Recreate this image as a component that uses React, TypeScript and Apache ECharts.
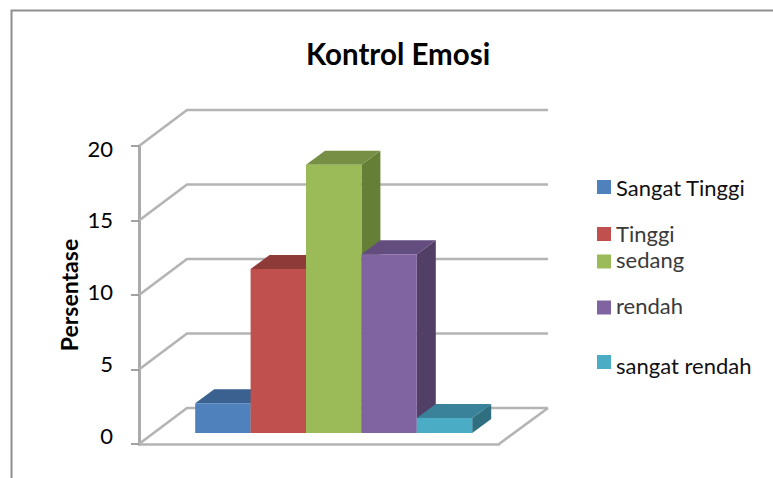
import React, { useEffect, useRef } from "react";
import * as echarts from "echarts";

const TITLE = "Kontrol Emosi";
const AXIS_NAME = "Persentase";
const GROUP = ["Kontrol Emosi"];
const LEVELS = ["Sangat Tinggi", "Tinggi", "sedang", "rendah", "sangat rendah"];
const VALUES = [2, 11, 18, 12, 1];
const TICKS = [0, 5, 10, 15, 20];

const FRONT = ["#4F81BD", "#C0504D", "#9BBB59", "#8064A2", "#4BACC6"];
const TOP = ["#3A6190", "#8E3A38", "#778F44", "#634C7E", "#39829A"];
const SIDE = ["#33557F", "#7E3331", "#667F37", "#523F66", "#2F6F7F"];
const LEGEND_TOPS = [176, 222, 248, 294, 354];
const LEGEND_TEXT = ["#111111", "#3A3A3A", "#3A3A3A", "#3A3A3A", "#111111"];
const LEGEND_TEXT_DROP = [0, 0, 0, 0, 6];
const LEGEND_TEXT_LIFT = [0, 2, 5, 5, 0];

const FONT = "Lato";
const WALL = "#B4B4B4";

// Projection of the chart's depth axis onto the screen.
const DEPTH_X = 48;
const DEPTH_Y = -36;
const BAR_DEPTH_X = 19;
const BAR_DEPTH_Y = -14;
const BAR_FRONT_X = 14.7;
const BAR_FRONT_Y = -11;
const BAR_WIDTH = 55.4;

function renderWall(params: any, api: any) {
  const value = api.value(1);
  const [, y] = api.coord([0, value]);
  const { x: left, width } = params.coordSys;
  const right = left + width;
  const line = (points: number[][]) => ({
    type: "polyline",
    shape: { points },
    style: { fill: "none", stroke: WALL, lineWidth: 2.6 },
  });
  const children: any[] = [
    line([
      [left, y],
      [left + DEPTH_X, y + DEPTH_Y],
      [right + DEPTH_X + 1, y + DEPTH_Y],
    ]),
  ];
  if (value === TICKS[0]) {
    children.push(line([[right, y], [right + DEPTH_X + 1, y + DEPTH_Y]]));
  }
  return { type: "group", children };
}

function barRenderer(index: number) {
  return (_params: any, api: any) => {
    const [cx, baseAxis] = api.coord([0, 0]);
    const [, topAxis] = api.coord([0, api.value(1)]);
    const x0 = cx + BAR_FRONT_X + (index - LEVELS.length / 2) * BAR_WIDTH;
    const x1 = x0 + BAR_WIDTH;
    const base = baseAxis + BAR_FRONT_Y;
    const top = topAxis + BAR_FRONT_Y;
    const poly = (points: number[][], fill: string) => ({
      type: "polygon",
      shape: { points },
      style: { fill },
    });
    return {
      type: "group",
      children: [
        poly(
          [
            [x1, top],
            [x1 + BAR_DEPTH_X, top + BAR_DEPTH_Y],
            [x1 + BAR_DEPTH_X, base + BAR_DEPTH_Y],
            [x1, base],
          ],
          SIDE[index],
        ),
        poly(
          [
            [x0, top],
            [x0 + BAR_DEPTH_X, top + BAR_DEPTH_Y],
            [x1 + BAR_DEPTH_X, top + BAR_DEPTH_Y],
            [x1, top],
          ],
          TOP[index],
        ),
        poly([[x0, top], [x1, top], [x1, base], [x0, base]], FRONT[index]),
      ],
    };
  };
}

export default function App() {
  const ref = useRef<HTMLDivElement>(null);

  useEffect(() => {
    const chart = echarts.init(ref.current!, undefined, { renderer: "svg" });
    chart.setOption({
      animation: false,
      backgroundColor: "#FFFFFF",
      color: FRONT,
      title: {
        text: TITLE,
        left: 393,
        top: 33,
        textAlign: "center",
        textStyle: { fontFamily: FONT, fontSize: 29.5, fontWeight: "bold", color: "#000000" },
      },
      grid: [
        { left: 139, top: 146, width: 360, height: 298 },
        { left: 121, top: 148, width: 360, height: 287 },
      ],
      xAxis: [
        {
          type: "category",
          gridIndex: 0,
          data: GROUP,
          axisLine: { show: true, lineStyle: { color: WALL, width: 2.6 } },
          axisTick: { show: false },
          axisLabel: { show: false },
        },
        {
          type: "category",
          gridIndex: 1,
          data: GROUP,
          axisLine: { show: false },
          axisTick: { show: false },
          axisLabel: { show: false },
        },
      ],
      yAxis: [
        {
          type: "value",
          gridIndex: 0,
          min: 0,
          max: 20,
          interval: 5,
          splitLine: { show: false },
          axisLine: { show: true, lineStyle: { color: "#ABABAB", width: 3 } },
          axisTick: { show: true, length: 8, lineStyle: { color: "#8C8C8C", width: 1.6 } },
          axisLabel: { show: false },
          name: AXIS_NAME,
          nameLocation: "middle",
          nameRotate: 90,
          nameGap: 59,
          nameTextStyle: { fontFamily: FONT, fontSize: 23, fontWeight: "bold", color: "#000000" },
        },
        {
          type: "value",
          gridIndex: 1,
          min: 0,
          max: 20,
          interval: 5,
          splitLine: { show: false },
          axisLine: { show: false },
          axisTick: { show: false },
          axisLabel: { margin: 8, fontFamily: FONT, fontSize: 22, color: "#000000" },
        },
      ],
      legend: LEVELS.map((name, i) => ({
        data: [name],
        left: 597,
        top: LEGEND_TOPS[i],
        padding: 0,
        itemWidth: 14,
        itemHeight: 14,
        itemGap: 6,
        icon: "rect",
        selectedMode: false,
        formatter: "{t|{name}}",
        textStyle: {
          color: LEGEND_TEXT[i],
          rich: {
            t: {
              fontFamily: FONT,
              fontSize: 22,
              color: LEGEND_TEXT[i],
              padding: [LEGEND_TEXT_DROP[i], 0, LEGEND_TEXT_LIFT[i], 0],
            },
          },
        },
      })),
      series: [
        {
          type: "custom",
          silent: true,
          xAxisIndex: 0,
          yAxisIndex: 0,
          data: TICKS.map((t) => [0, t]),
          encode: { x: 0, y: 1 },
          renderItem: renderWall,
          z: 1,
        },
        ...LEVELS.map((name, i) => ({
          type: "custom",
          name,
          silent: true,
          xAxisIndex: 0,
          yAxisIndex: 0,
          itemStyle: { color: FRONT[i] },
          data: [[0, VALUES[i]]],
          encode: { x: 0, y: 1 },
          renderItem: barRenderer(i),
          z: 2 + i,
        })),
      ],
      graphic: [
        {
          type: "polyline",
          silent: true,
          shape: { points: [[11.5, 478], [11.5, 10.5], [773, 10.5]] },
          style: { fill: "none", stroke: "#8E8E8E", lineWidth: 2 },
        },
      ],
    });
    return () => chart.dispose();
  }, []);

  return <div ref={ref} style={{ position: "absolute", left: 0, top: 0, width: 773, height: 478 }} />;
}
